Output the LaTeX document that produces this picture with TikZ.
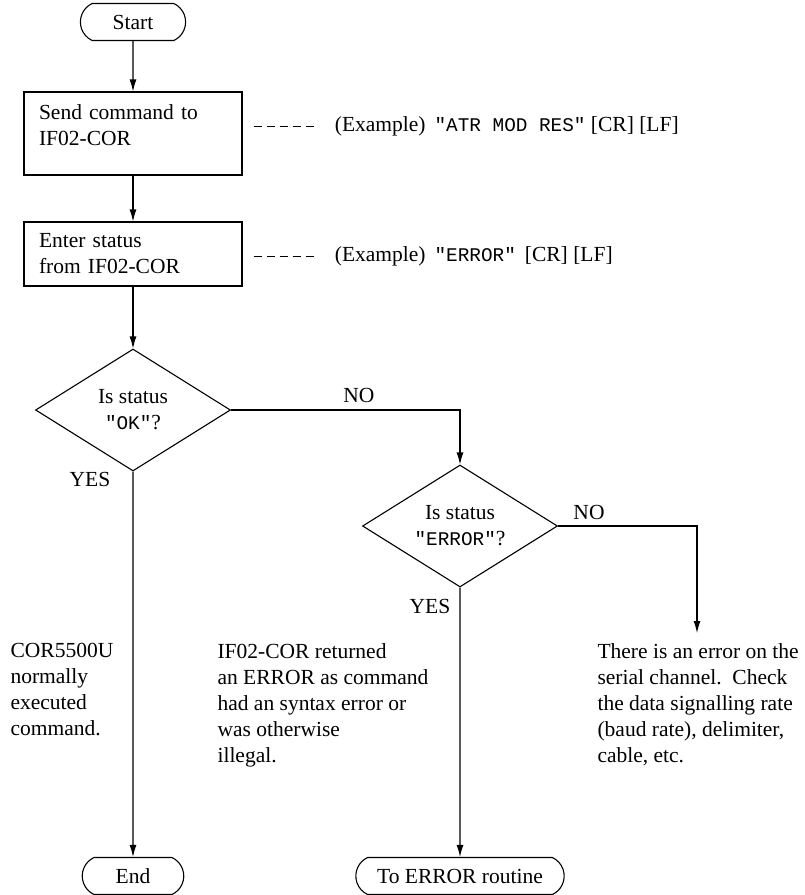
\documentclass[tikz,border=0pt]{standalone}
\usepackage{fontspec}
\setmainfont{Liberation Serif}
\setmonofont[Scale=0.9]{Liberation Mono}
\usetikzlibrary{shapes.geometric,shapes.misc,arrows.meta}
\begin{document}
\begin{tikzpicture}[x=1pt, y=-1pt, line width=1.1pt, font=\fontsize{21.5pt}{26pt}\selectfont,
  term/.style={draw, rounded rectangle, rounded rectangle arc length=130, minimum height=37pt, inner xsep=20pt},
  proc/.style={draw, rectangle, align=left, text width=188pt, inner xsep=15pt},
  dec/.style={draw, diamond, aspect=1.6, inner sep=0pt, minimum width=195pt, minimum height=122pt, align=center},
  flow/.style={-{Latex[length=12pt,width=7pt]}},
  dashline/.style={line width=0.9pt, dash pattern=on 8pt off 5pt, shorten <=11pt, shorten >=17pt},
  note/.style={anchor=north west, inner sep=0pt, align=left}]
\useasboundingbox (0,0) rectangle (804,895);
\node[term, inner xsep=31pt] (start) at (133,22) {Start};
\node[proc, minimum height=83pt] (cmd) at (133,133.5) {Send command to\\IF02-COR\rule[-16pt]{0pt}{16pt}};
\node[proc, minimum height=64pt] (stat) at (133,254) {Enter status\\from IF02-COR};
\node[anchor=west] (ex1) at (331,126) {(Example)\hspace{9pt}\texttt{"ATR MOD RES"} [CR] [LF]};
\node[anchor=west] (ex2) at (331,256) {(Example)\hspace{9pt}\texttt{"ERROR"}\hspace{9pt}[CR] [LF]};
\node[dec] (isok) at (133,410) {Is status\\\texttt{"OK"}?};
\node[dec] (iserr) at (460,526) {Is status\\\texttt{"ERROR"}?};
\node (no1) at (359,395) {NO};
\node (yes1) at (90,479) {YES};
\node (no2) at (589,512) {NO};
\node (yes2) at (430,606) {YES};
\coordinate (chktip) at (697,633);
\node[note] (okmsg) at (10,643) {COR5500U\\normally\\executed\\command.};
\node[note] (errmsg) at (217,643) {IF02-COR returned\\an ERROR as command\\had an syntax error or\\was otherwise\\illegal.};
\node[note] (chkmsg) at (597,643) {There is an error on the\\serial channel.\ \ Check\\the data signalling rate\\(baud rate), delimiter,\\cable, etc.};
\node[term, inner xsep=32pt] (fin) at (133,876) {End};
\node[term] (toerr) at (460,876) {To ERROR routine};
\draw[flow] (start) -- (cmd);
\draw[flow] (cmd) -- (stat);
\draw[flow] (stat) -- (isok);
\draw[flow] (isok) -- (fin);
\draw[flow] (isok.east) -| (iserr.north);
\draw[flow] (iserr) -- (toerr);
\draw[flow] (iserr.east) -| (chktip);
\draw[dashline] (cmd.east |- ex1.west) -- (ex1.west);
\draw[dashline] (stat.east |- ex2.west) -- (ex2.west);
\end{tikzpicture}
\end{document}
